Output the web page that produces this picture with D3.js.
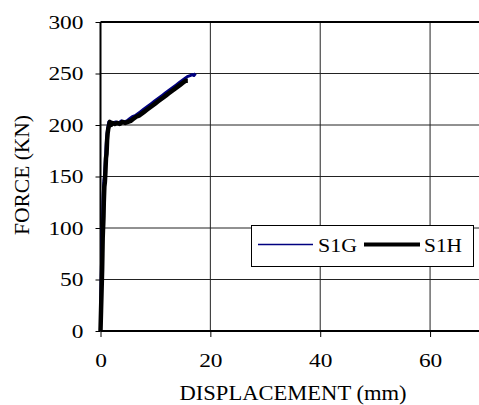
<!DOCTYPE html>
<html><head><meta charset="utf-8">
<script src="https://cdn.jsdelivr.net/npm/d3@7"></script>
<style>body{margin:0;background:#fff}svg{display:block}</style>
</head><body>
<script>
const xTicks = [0, 20, 40, 60];
const yTicks = [0, 50, 100, 150, 200, 250, 300];
const seriesNames = ["S1G", "S1H"];
const s1gDisp  = [0, 0.05, 0.1, 0.15, 0.2, 0.25, 0.3, 0.35, 0.4, 0.45, 0.5, 0.6, 0.75, 0.85, 0.95, 1.05, 1.2, 1.35, 1.5, 1.8, 2.3, 2.8, 3.3, 3.8, 4.3, 4.8, 5.3, 5.8, 6.3, 6.8, 7.3, 7.8, 8.3, 8.8, 9.3, 9.8, 10.3, 10.8, 11.3, 11.8, 12.3, 12.8, 13.3, 13.8, 14.3, 14.8, 15.3, 15.8, 16.3, 16.7, 17.0, 17.3];
const s1gForce = [0, 15, 35, 55, 70, 85, 95, 103, 110, 120, 132, 145, 152, 162, 172, 182, 192, 198, 203, 203, 202, 203, 202, 204, 203, 204, 206, 208, 209, 211, 213, 215, 217, 219, 221, 223, 225, 227, 229, 231, 233, 235, 237, 239, 241, 243, 245, 247, 248, 249, 248, 250];
const s1hDisp  = [0, 0.1, 0.2, 0.3, 0.35, 0.4, 0.45, 0.5, 0.55, 0.6, 0.7, 0.8, 0.9, 1.0, 1.1, 1.2, 1.3, 1.4, 1.7, 1.9, 2.2, 2.6, 3.0, 3.5, 4.0, 4.5, 5.0, 5.5, 6.0, 6.5, 7.0, 7.5, 8.0, 8.5, 9.0, 9.5, 10, 10.5, 11, 11.5, 12, 12.5, 13, 13.5, 14, 14.5, 15, 15.5, 15.9];
const s1hForce = [0, 20, 40, 60, 75, 90, 98, 104, 112, 125, 140, 145, 155, 168, 172, 185, 192, 196, 203, 200, 202, 201, 202, 201, 203, 202, 203, 204, 206, 208, 209, 211, 213, 215, 217, 219, 221, 223, 225, 227, 229, 231, 233, 235, 237, 239, 241, 243, 243];

const W = 479, H = 405;
const m = {left: 100.5, top: 22, right: 485, bottom: 331};
const svg = d3.select("body").append("svg").attr("width", W).attr("height", H);
const x = d3.scaleLinear().domain([0, 70]).range([m.left, m.right]);
const y = d3.scaleLinear().domain([0, 300]).range([m.bottom, m.top]);
const font = "'Liberation Serif', 'Times New Roman', serif";

// grid
svg.append("g").selectAll("line.h").data(yTicks.filter(d => d > 0 && d < 300)).join("line")
  .attr("x1", m.left).attr("x2", m.right).attr("y1", d => y(d)).attr("y2", d => y(d))
  .attr("stroke", "#222").attr("stroke-width", 1);
svg.append("g").selectAll("line.v").data(xTicks.filter(d => d > 0)).join("line")
  .attr("y1", m.top).attr("y2", m.bottom).attr("x1", d => x(d)).attr("x2", d => x(d))
  .attr("stroke", "#222").attr("stroke-width", 1);
// top border
svg.append("line").attr("x1", m.left).attr("x2", m.right).attr("y1", m.top).attr("y2", m.top)
  .attr("stroke", "#000").attr("stroke-width", 2);

// axes
const yAxis = d3.axisLeft(y).tickValues(yTicks).tickSize(5).tickPadding(12).tickFormat(d3.format("d"));
const gy = svg.append("g").attr("transform", `translate(${m.left},0)`).call(yAxis);
const xAxis = d3.axisBottom(x).tickValues(xTicks).tickSize(6).tickPadding(17).tickFormat(d3.format("d"));
const gx = svg.append("g").attr("transform", `translate(0,${m.bottom})`).call(xAxis);
[gx, gy].forEach(g => {
  g.attr("font-family", null).attr("font-size", null);
  g.select(".domain").attr("stroke", "#000").attr("stroke-width", 2);
  g.selectAll(".tick line").attr("stroke", "#000");
  g.selectAll("text").style("font-family", font).style("font-size", "19px").attr("fill", "#000")
    .attr("textLength", d => String(d).length * 11.7).attr("lengthAdjust", "spacingAndGlyphs");
});
gy.select(".domain").attr("d", `M0,${m.bottom}V${m.top}`);
gx.select(".domain").attr("d", `M${m.left},0H${m.right}`);

// lines
const line = d3.line().x(d => x(d[0])).y(d => y(d[1]));
const s1g = s1gDisp.map((d, i) => [d, s1gForce[i]]);
const s1h = s1hDisp.map((d, i) => [d, s1hForce[i]]);
svg.append("path").datum(s1g).attr("d", line).attr("fill", "none").attr("stroke", "#000080").attr("stroke-width", 3).attr("stroke-linejoin", "round");
svg.append("path").datum(s1h).attr("d", line).attr("fill", "none").attr("stroke", "#000").attr("stroke-width", 4.5).attr("stroke-linejoin", "round");

// axis titles
svg.append("text").attr("x", 293).attr("y", 400).attr("text-anchor", "middle")
  .style("font-family", font).style("font-size", "20px").attr("textLength", 227).attr("lengthAdjust", "spacingAndGlyphs")
  .text("DISPLACEMENT (mm)");
svg.append("text").attr("transform", "translate(29,175) rotate(-90)").attr("text-anchor", "middle")
  .style("font-family", font).style("font-size", "20px").attr("textLength", 120).attr("lengthAdjust", "spacingAndGlyphs")
  .text("FORCE (KN)");

// legend
const lg = svg.append("g");
lg.append("rect").attr("x", 251.5).attr("y", 225.5).attr("width", 222).attr("height", 41)
  .attr("fill", "#fff").attr("stroke", "#000").attr("stroke-width", 1);
const legendItems = [
  {name: seriesNames[0], color: "#000080", w: 1.5, x1: 258, x2: 313, tx: 318, len: 39},
  {name: seriesNames[1], color: "#000", w: 4, x1: 364, x2: 420, tx: 424, len: 38}
];
legendItems.forEach(it => {
  lg.append("line").attr("x1", it.x1).attr("x2", it.x2).attr("y1", 244.5).attr("y2", 244.5)
    .attr("stroke", it.color).attr("stroke-width", it.w);
  lg.append("text").attr("x", it.tx).attr("y", 252).style("font-family", font).style("font-size", "19px")
    .attr("textLength", it.len).attr("lengthAdjust", "spacingAndGlyphs").text(it.name);
});
</script>
</body></html>
